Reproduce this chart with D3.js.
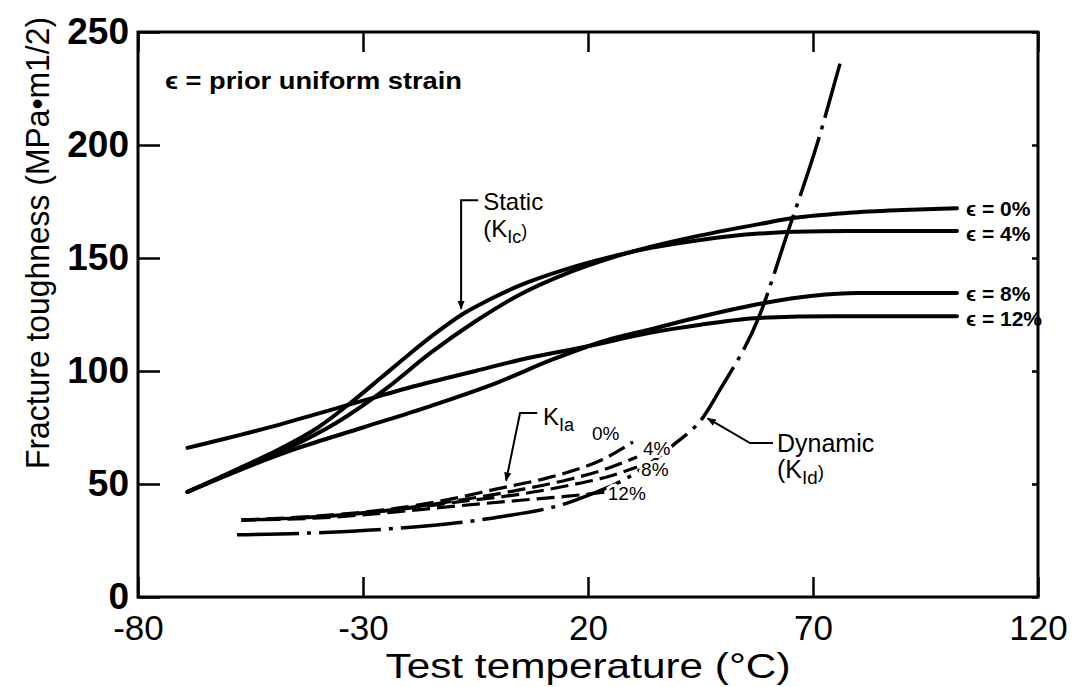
<!DOCTYPE html>
<html><head><meta charset="utf-8">
<script src="https://cdn.jsdelivr.net/npm/d3@7"></script>
<style>
body{margin:0;background:#fff}
text{font-family:"Liberation Sans",Arial,Helvetica,sans-serif;fill:#000}
</style>
</head><body>
<svg id="c" width="1075" height="687"></svg>
<script>
// ---------- data ----------
const xTickValues = [-80, -30, 20, 70, 120];
const yTickValues = [0, 50, 100, 150, 200, 250];

// Static K_Ic curves (temperature °C, toughness MPa·m^1/2)
const kic0Temp  = [-69, -58, -47, -36, -25, -15, -5, 5, 15, 25, 34, 45, 58, 66, 78, 90, 102];
const kic0Val   = [46.5, 56, 65.5, 77, 92, 108, 122, 134, 143, 150, 155, 160, 165, 167.8, 170, 171.2, 172];
const kic4Temp  = [-69, -58, -47, -40, -33, -26, -20, -14, -8, -2, 5, 15, 25, 34, 45, 58, 66, 78, 102];
const kic4Val   = [46.5, 56.5, 67, 75, 85.5, 97, 107, 116.5, 125, 131.5, 138, 145, 150.5, 154.5, 158, 160.8, 161.6, 162, 162];
const kic8Temp  = [-69, -57, -45, -30, -15, 0, 12, 24, 34, 45, 58.9, 70, 80, 102];
const kic8Val   = [46.5, 56.5, 65.5, 75, 84.5, 95, 105, 113.5, 118.5, 124, 130, 133.3, 134.5, 134.5];
const kic12Temp = [-69, -50, -35, -20, -5, 5, 20, 34, 45, 58, 75, 89, 102];
const kic12Val  = [66, 75.5, 84, 92.5, 100, 105, 111, 117, 120.5, 123.5, 124.2, 124.2, 124.2];

// Arrest K_Ia curves (dashed)
const kia0Temp  = [-57, -37, -22, -10, -1, 11, 16, 23, 30];
const kia0Val   = [34.1, 36.3, 39.4, 43.5, 47.5, 52.7, 55.5, 60.6, 68.6];
const kia4Temp  = [-57, -37, -22, -8, 5, 15.3, 23, 30.9];
const kia4Val   = [34, 36, 39, 43, 47.5, 51.8, 56, 62];
const kia8Temp  = [-57, -37, -22, -8, 5, 16, 24, 30.9];
const kia8Val   = [34, 35.8, 38.7, 42.3, 45.5, 49.5, 53, 57.5];
const kia12Temp = [-57, -37, -22, -8, 5, 15, 24.2];
const kia12Val  = [34, 35.3, 37.8, 40.5, 42.8, 44.5, 46.5];

// Dynamic K_Id curve (dash-dot)
const kidTemp = [-58, -42, -22, -1, 16, 19, 29, 39, 45.6, 49.3, 58, 64.4, 71, 76];
const kidVal  = [27.5, 28.3, 30.5, 35, 42, 44.2, 53, 67.3, 79.6, 91.6, 124, 161.5, 201, 236];

// ---------- chart ----------
const svg = d3.select("#c");
const x = d3.scaleLinear().domain([-80, 120]).range([138, 1038]);
const y = d3.scaleLinear().domain([0, 250]).range([597, 32]);

svg.append("rect").attr("width", 1075).attr("height", 687).attr("fill", "#fff");

const line = d3.line().x(d => x(d[0])).y(d => y(d[1])).curve(d3.curveMonotoneX);
const zip = (a, b) => a.map((t, i) => [t, b[i]]);
const fmt = d => String(d);

// axes (inward ticks)
const gL = svg.append("g").attr("transform", `translate(${x(-80)},0)`)
  .call(d3.axisLeft(y).tickValues(yTickValues).tickFormat(fmt).tickSizeInner(-22).tickSizeOuter(0).tickPadding(9));
gL.selectAll("text").style("font-size", "37px").style("font-weight", "bold");
const gB = svg.append("g").attr("transform", `translate(0,${y(0)})`)
  .call(d3.axisBottom(x).tickValues(xTickValues).tickFormat(fmt).tickSizeInner(-20).tickSizeOuter(0).tickPadding(18));
gB.selectAll("text").style("font-size", "35px");
const gT = svg.append("g").attr("transform", `translate(0,${y(250)})`)
  .call(d3.axisTop(x).tickValues(xTickValues).tickSizeInner(-20).tickSizeOuter(0).tickFormat(""));
const gR = svg.append("g").attr("transform", `translate(${x(120)},0)`)
  .call(d3.axisRight(y).tickValues(yTickValues).tickSizeInner(-6).tickSizeOuter(0).tickFormat(""));
[gL, gB, gT, gR].forEach(g => {
  g.select(".domain").remove();
  g.selectAll("line").attr("stroke", "#000").attr("stroke-width", 2.5);
  g.selectAll("text").attr("fill", "#000").style("font-family", '"Liberation Sans",Arial,sans-serif');
});

// frame
svg.append("rect").attr("x", x(-80)).attr("y", y(250))
  .attr("width", x(120) - x(-80)).attr("height", y(0) - y(250))
  .attr("fill", "none").attr("stroke", "#000").attr("stroke-width", 3);

// axis titles
svg.append("text").attr("transform", `translate(49,${(16 + 470) / 2}) rotate(-90)`)
  .attr("text-anchor", "middle").attr("textLength", 452).attr("lengthAdjust", "spacingAndGlyphs")
  .style("font-size", "33px").text("Fracture toughness (MPa\u2022m1/2)");
svg.append("text").attr("x", x(20)).attr("y", 678).attr("text-anchor", "middle")
  .attr("textLength", 405).attr("lengthAdjust", "spacingAndGlyphs")
  .style("font-size", "35px").text("Test temperature (\u00B0C)");

// static curves
[[kic0Temp, kic0Val], [kic4Temp, kic4Val], [kic8Temp, kic8Val], [kic12Temp, kic12Val]].forEach(([t, v]) => {
  svg.append("path").attr("d", line(zip(t, v))).attr("fill", "none")
    .attr("stroke", "#000").attr("stroke-width", 4).attr("stroke-linecap", "round");
});

// arrest curves (dashed)
[[kia0Temp, kia0Val, 0], [kia4Temp, kia4Val, 7], [kia8Temp, kia8Val, 14], [kia12Temp, kia12Val, 4]].forEach(([t, v, off]) => {
  svg.append("path").attr("d", line(zip(t, v))).attr("fill", "none")
    .attr("stroke", "#000").attr("stroke-width", 3.2)
    .attr("stroke-dasharray", "18,7").attr("stroke-dashoffset", off);
});

// dynamic curve (dash-dot)
svg.append("path").attr("d", line(zip(kidTemp, kidVal))).attr("fill", "none")
  .attr("stroke", "#000").attr("stroke-width", 3.5)
  .attr("stroke-dasharray", "62,8,4,8");

// arrowhead marker
svg.append("defs").append("marker").attr("id", "ah").attr("viewBox", "0 0 10 10")
  .attr("refX", 9).attr("refY", 5).attr("markerWidth", 9).attr("markerHeight", 9)
  .attr("markerUnits", "userSpaceOnUse").attr("orient", "auto")
  .append("path").attr("d", "M0,1 L10,5 L0,9 Z").attr("fill", "#000");

const leader = pts => svg.append("path")
  .attr("d", d3.line().x(d => x(d[0])).y(d => y(d[1])).curve(d3.curveLinear)(pts))
  .attr("fill", "none").attr("stroke", "#000").attr("stroke-width", 2).attr("marker-end", "url(#ah)");

// label helper with optional white halo
function label(tx, ty, parts, size, weight, halo, len) {
  const t = svg.append("text").attr("x", x(tx)).attr("y", y(ty))
    .style("font-size", size + "px").style("font-weight", weight || "normal");
  if (halo) t.attr("stroke", "#fff").attr("stroke-width", 6).attr("paint-order", "stroke");
  if (len) t.attr("textLength", len).attr("lengthAdjust", "spacingAndGlyphs");
  parts.forEach(p => {
    const s = t.append("tspan").text(p.t);
    if (p.sub) s.attr("dy", p.sub).style("font-size", (size * 0.75) + "px");
  });
  return t;
}

// legend note
label(-74, 224.8, [{t: "\u03F5  =  prior uniform strain"}], 24, "bold", false, 297);

// Static (K_Ic)
leader([[-4.4, 175.5], [-8.2, 175.5], [-8.2, 127.5]]);
label(-3.3, 171.2, [{t: "Static"}], 24);
label(-3.3, 159.3, [{t: "(K"}, {t: "Ic", sub: 6}, {t: ")", sub: -6}], 24);

// K_Ia
leader([[8.7, 81.4], [4.9, 81.4], [1.8, 51.5]]);
label(10, 76.1, [{t: "K"}, {t: "Ia", sub: 6}], 24);

// percentages of K_Ia
label(20.9, 69.5, [{t: "0%"}], 19, "normal", true);
label(32.2, 62.8, [{t: "4%"}], 19, "normal", true);
label(31.8, 53.5, [{t: "8%"}], 19, "normal", true);
label(24.4, 42.9, [{t: "12%"}], 19, "normal", true);

// Dynamic (K_Id)
leader([[61.1, 68.1], [56, 68.1], [46.6, 79]]);
label(62, 64.2, [{t: "Dynamic"}], 25);
label(62, 52.7, [{t: "(K"}, {t: "Id", sub: 6}, {t: ")", sub: -6}], 25);

// right strain labels
label(104, 168.6, [{t: "\u03F5  =  0%"}], 21, "bold");
label(104, 157.5, [{t: "\u03F5  =  4%"}], 21, "bold");
label(104, 131, [{t: "\u03F5  =  8%"}], 21, "bold");
label(104, 119.9, [{t: "\u03F5  =  12%"}], 21, "bold");
</script>
</body></html>
